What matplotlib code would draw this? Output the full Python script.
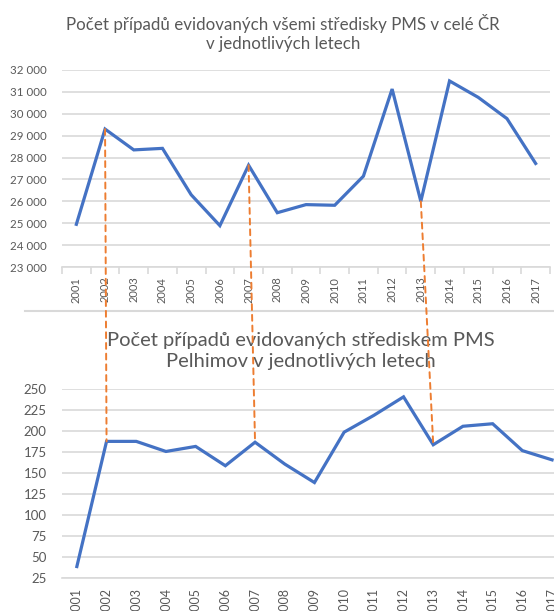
import numpy as np
import matplotlib.pyplot as plt
from matplotlib.ticker import FuncFormatter, FixedLocator
from matplotlib.patches import ConnectionPatch
from matplotlib.lines import Line2D

plt.rcParams['font.family'] = ['Lato', 'DejaVu Sans']

years = [str(y) for y in range(2001, 2018)]
# all PMS centres in CR
cr_cases = [24950, 29300, 28350, 28420, 26300, 24890, 27650, 25480, 25850,
            25820, 27150, 31130, 26000, 31500, 30750, 29780, 27730]
# PMS centre Pelhrimov
pe_cases = [39, 188, 188, 176, 182, 159, 187, 161, 139, 199, 219, 241, 184,
            206, 209, 177, 166]
highlight_years = ['2002', '2007', '2013']

title_top = 'Počet případů evidovaných všemi středisky PMS v celé ČR\nv jednotlivých letech'
title_bot = 'Počet případů evidovaných střediskem PMS\nPelhimov v jednotlivých letech'

blue = '#4472C4'
orange = '#ED7D31'
grey_txt = '#595959'
grid_c = '#D9D9D9'

W, H = 554, 611
fig = plt.figure(figsize=(W / 100, H / 100), dpi=100)

ax1 = fig.add_axes([62 / W, 1 - 267 / H, 488 / W, 197 / H])
ax2 = fig.add_axes([62 / W, 1 - 578.3 / H, 17 * 29.7 / W, 189 / H])


def thousands(v, pos):
    return '{:,.0f}'.format(v).replace(',', ' ')


def style(ax, yticks, fmt, fs_y, fs_x, ticks=True):
    x = np.arange(len(years))
    ax.set_xlim(-0.5, len(years) - 0.5)
    ax.set_ylim(yticks[0], yticks[-1])
    ax.yaxis.set_major_locator(FixedLocator(yticks))
    ax.yaxis.set_major_formatter(FuncFormatter(fmt))
    ax.grid(axis='y', color=grid_c, linewidth=1.2)
    ax.set_axisbelow(True)
    for s in ['top', 'right', 'left']:
        ax.spines[s].set_visible(False)
    ax.spines['bottom'].set_color(grid_c)
    ax.spines['bottom'].set_linewidth(1.2)
    ax.set_xticks(x)
    ax.set_xticklabels(years, rotation=90, fontsize=fs_x, color=grey_txt)
    if ticks:
        ax.set_xticks(np.arange(len(years) + 1) - 0.5, minor=True)
    ax.tick_params(axis='x', which='major', length=0, pad=7)
    ax.tick_params(axis='x', which='minor', length=5, color=grid_c, width=1.2)
    ax.tick_params(axis='y', length=0, pad=11, labelsize=fs_y, labelcolor=grey_txt)


x = np.arange(len(years))
ax1.plot(x, cr_cases, color=blue, linewidth=2.3, solid_joinstyle='miter', zorder=3)
style(ax1, np.arange(23000, 32001, 1000), thousands, 8.3, 8)

ax2.plot(x, pe_cases, color=blue, linewidth=2.3, solid_joinstyle='miter', zorder=3)
style(ax2, np.arange(25, 251, 25), lambda v, p: '{:.0f}'.format(v), 9.5, 9,
      ticks=False)

fig.text(283 / W, 1 - 33 / H, title_top, ha='center', va='center',
         fontsize=12.2, color=grey_txt, linespacing=1.2)
fig.text(301 / W, 1 - 351 / H, title_bot, ha='center', va='center',
         fontsize=14.5, color=grey_txt, linespacing=1.35)

# frame edge of the lower chart
fig.add_artist(Line2D([25 / W, 1], [1 - 311 / H, 1 - 311 / H],
                      color=grid_c, linewidth=1.5))

# dashed connectors between matching years
for yr in highlight_years:
    i = years.index(yr)
    con = ConnectionPatch(xyA=(i, cr_cases[i]), coordsA=ax1.transData,
                          xyB=(i, pe_cases[i]), coordsB=ax2.transData,
                          color=orange, linewidth=1.4, linestyle=(0, (3, 2.5)),
                          zorder=5)
    fig.add_artist(con)

fig.savefig('out.png', dpi=100)
